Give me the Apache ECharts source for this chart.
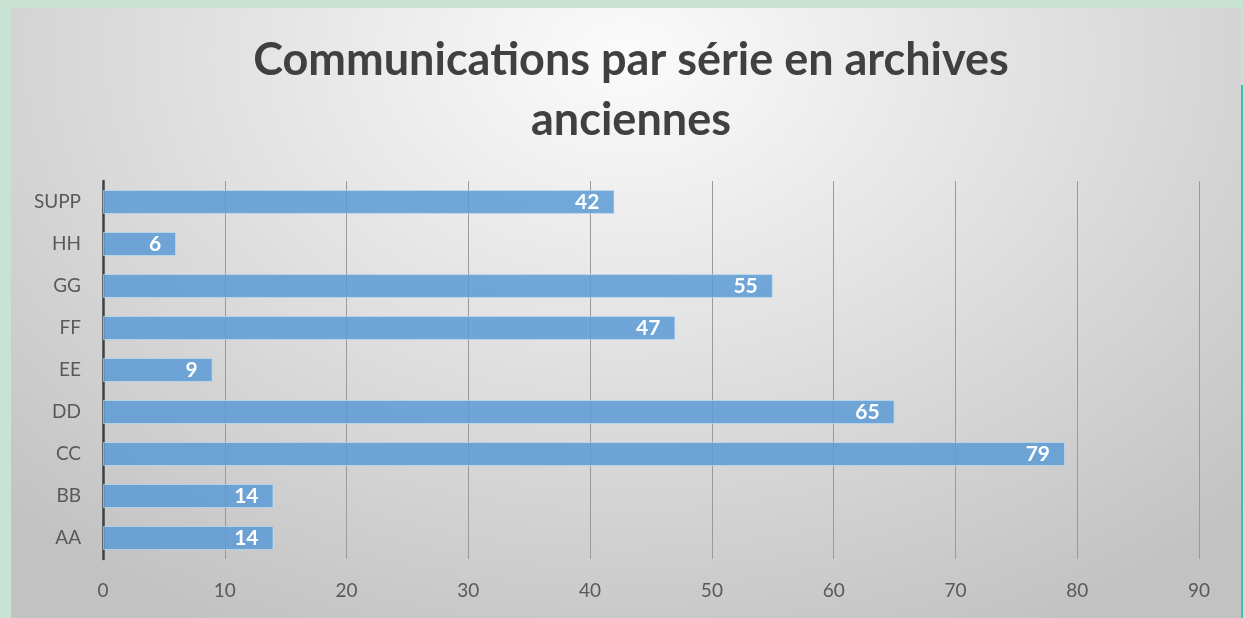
<!DOCTYPE html>
<html>
<head>
<meta charset="utf-8">
<script src="https://cdn.jsdelivr.net/npm/echarts@6/dist/echarts.min.js"></script>
<style>
html, body { margin: 0; padding: 0; background: #c8e3d4; }
#panel {
	position: absolute; left: 11px; top: 8px; width: 1230px; height: 610px;
	background: radial-gradient(ellipse 72% 105% at 50% 8%, #fbfbfb 0%, #e2e2e2 45%, #c2c2c2 100%);
}
#edge { position: absolute; left: 1241px; top: 85px; width: 2px; height: 533px; background: #2cc9b0; }
#chart { position: absolute; left: 0; top: 0; width: 1243px; height: 618px; }
</style>
</head>
<body>
<div id="panel"></div>
<div id="edge"></div>
<div id="chart"></div>
<script>
// données
const categories = ['AA', 'BB', 'CC', 'DD', 'EE', 'FF', 'GG', 'HH', 'SUPP'];
const values = [14, 14, 79, 65, 9, 47, 55, 6, 42];
const xTicks = [0, 10, 20, 30, 40, 50, 60, 70, 80, 90];

const myChart = echarts.init(document.getElementById('chart'));
const font = 'Lato, "Open Sans", sans-serif';

myChart.setOption({
	backgroundColor: 'transparent',
	animation: false,
	title: {
		text: 'Communications par série en archives\nanciennes',
		left: 626,
		top: 25,
		textAlign: 'center',
		textStyle: {
			fontFamily: font,
			fontSize: 45,
			fontWeight: 'bold',
			color: '#404040',
			lineHeight: 60
		}
	},
	grid: { left: 103, right: 44, top: 181, bottom: 59 },
	xAxis: {
		type: 'value',
		min: xTicks[0],
		max: xTicks[xTicks.length - 1],
		interval: 10,
		axisLine: { show: false },
		axisTick: { show: false },
		splitLine: { lineStyle: { color: '#9a9a9a', width: 1 } },
		axisLabel: {
			margin: 22,
			fontFamily: font,
			fontSize: 19,
			color: '#595959'
		}
	},
	yAxis: {
		type: 'category',
		data: categories,
		axisTick: { show: false },
		axisLine: { lineStyle: { color: '#404040', width: 2.5 } },
		axisLabel: {
			margin: 22,
			fontFamily: font,
			fontSize: 19,
			color: '#595959'
		}
	},
	series: [{
		type: 'bar',
		data: values,
		barCategoryGap: '43%',
		itemStyle: { color: 'rgba(91,155,213,0.85)', borderColor: 'rgba(200,225,245,0.6)', borderWidth: 1 },
		label: {
			show: true,
			position: 'insideRight',
			distance: 15,
			color: '#ffffff',
			fontFamily: font,
			fontSize: 21,
			fontWeight: 'bold'
		}
	}]
});
</script>
</body>
</html>
